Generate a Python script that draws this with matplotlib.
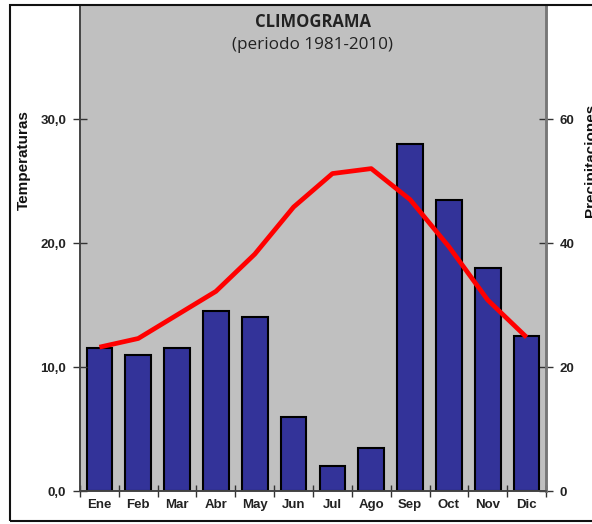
import matplotlib
matplotlib.use("Agg")
import matplotlib.pyplot as plt
from matplotlib.patches import Rectangle

months = ["Ene", "Feb", "Mar", "Abr", "May", "Jun", "Jul", "Ago", "Sep", "Oct", "Nov", "Dic"]
precip = [23, 22, 23, 29, 28, 12, 4, 7, 56, 47, 36, 25]
temp = [11.6, 12.3, 14.2, 16.1, 19.1, 22.9, 25.6, 26.0, 23.5, 19.7, 15.4, 12.4]
temp_ticks = [0, 10, 20, 30]
temp_ticklabels = ["0,0", "10,0", "20,0", "30,0"]
precip_ticks = [0, 20, 40, 60]

W, H = 592, 524
fig = plt.figure(figsize=(W / 100, H / 100), dpi=100)
fig.patch.set_facecolor("white")

left, right, bottom, top = 80, 546, 491, 5
ax = fig.add_axes([left / W, 1 - bottom / H, (right - left) / W, (bottom - top) / H])
ax2 = ax.twinx()

x = list(range(len(months)))
ax2.bar(x, precip, width=0.66, color="#333399", edgecolor="black", linewidth=1.5, zorder=2)
ax.plot(x, temp, color="#FF0000", linewidth=3.4, zorder=3, solid_capstyle="butt",
        solid_joinstyle="round")
ax.set_zorder(ax2.get_zorder() + 1)
ax.patch.set_visible(False)
ax2.patch.set_visible(False)
bg = fig.add_axes(ax.get_position(), zorder=-1)
bg.set_facecolor("#C0C0C0")
bg.set_xticks([]); bg.set_yticks([])
for s in bg.spines.values():
    s.set_visible(False)

ymax = (bottom - top) / 12.4
ax.set_ylim(0, ymax)
ax2.set_ylim(0, ymax * 2)
ax.set_xlim(-0.5, 11.5)

tickfont = dict(family="Liberation Sans", weight="bold", size=9.5, color="#222222")
ax.set_yticks(temp_ticks)
ax.set_yticklabels(temp_ticklabels, **tickfont)
ax2.set_yticks(precip_ticks)
ax2.set_yticklabels([str(v) for v in precip_ticks], **tickfont)
ax.set_xticks(x)
ax.set_xticklabels(months, **tickfont)
ax.set_xticks([i + 0.5 for i in range(-1, 12)], minor=True)
ax.tick_params(axis="x", which="major", length=0, pad=6)
ax.tick_params(axis="x", which="minor", length=8, direction="inout", color="#333333", width=1)
ax.tick_params(axis="y", length=10, direction="inout", color="#333333", width=1, pad=5)
ax2.tick_params(axis="y", length=10, direction="inout", color="#333333", width=1, pad=5)
ax2.tick_params(axis="x", length=0)

for a in (ax, ax2):
    a.spines["top"].set_visible(False)
    a.spines["left"].set_color("#444444")
    a.spines["bottom"].set_color("#444444")
    a.spines["right"].set_color("#777777")
    a.spines["right"].set_linewidth(1.8)
    a.spines["left"].set_linewidth(1.2)
    a.spines["bottom"].set_linewidth(1.2)

cx = ((left + right) / 2) / W
fig.text(cx, 1 - 22 / H, "CLIMOGRAMA", ha="center", va="center",
         family="Open Sans", weight="bold", size=12, color="#222222")
fig.text(cx, 1 - 45 / H, "(periodo 1981-2010)", ha="center", va="center",
         family="Open Sans", size=12.3, color="#222222")

fig.text(24 / W, 1 - 160 / H, "Temperaturas", rotation=90, ha="center", va="center",
         family="Liberation Sans", weight="bold", size=11, color="#111111")
fig.text(591 / W, 1 - 160 / H, "Precipitaciones", rotation=90, ha="center", va="center",
         family="Liberation Sans", weight="bold", size=11, color="#111111")

frame = Rectangle((10 / W, 1 - 521 / H), (W + 20 - 10) / W, (521 - 5) / H,
                  transform=fig.transFigure, fill=False, edgecolor="#111111",
                  linewidth=1.5, clip_on=False, zorder=10)
fig.patches.append(frame)

fig.savefig("out.png", dpi=100)
